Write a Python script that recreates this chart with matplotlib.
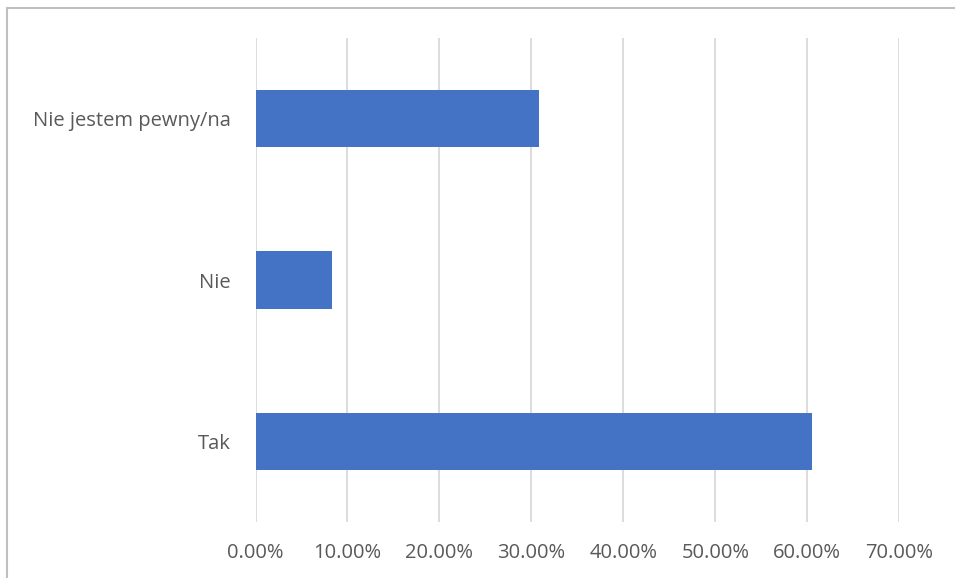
import matplotlib.pyplot as plt
from matplotlib.patches import Rectangle
from matplotlib.ticker import FuncFormatter, MultipleLocator

# data
categories = ['Tak', 'Nie', 'Nie jestem pewny/na']
values = [0.6054, 0.0832, 0.3086]

plt.rcParams['font.family'] = ['Open Sans', 'DejaVu Sans']

W, H = 955, 578
fig = plt.figure(figsize=(W / 100, H / 100), dpi=100)
ax = fig.add_axes([255.5 / W, 1 - 522 / H, (899.3 - 255.5) / W, (522 - 38) / H])

ax.barh(categories, values, height=0.355, color='#4472C4', zorder=3)

ax.set_xlim(0, 0.7)
ax.set_ylim(-0.5, 2.5)
ax.xaxis.set_major_locator(MultipleLocator(0.1))
ax.xaxis.set_major_formatter(FuncFormatter(lambda v, p: f'{v * 100:.2f}%'))
ax.grid(axis='x', color='#D9D9D9', linewidth=1.3, zorder=0)
ax.grid(axis='y', visible=False)
for s in ax.spines.values():
    s.set_visible(False)
ax.tick_params(axis='both', length=0, labelsize=14.5, colors='#595959')
ax.tick_params(axis='x', pad=15)
ax.tick_params(axis='y', pad=18)

# outer chart border
fig.patches.append(Rectangle((7 / W, -0.1), 1.2, 1 - 8 / H + 0.1,
                             transform=fig.transFigure, fill=False,
                             edgecolor='#BFBFBF', linewidth=1.5))

fig.savefig('out.png', dpi=100)
